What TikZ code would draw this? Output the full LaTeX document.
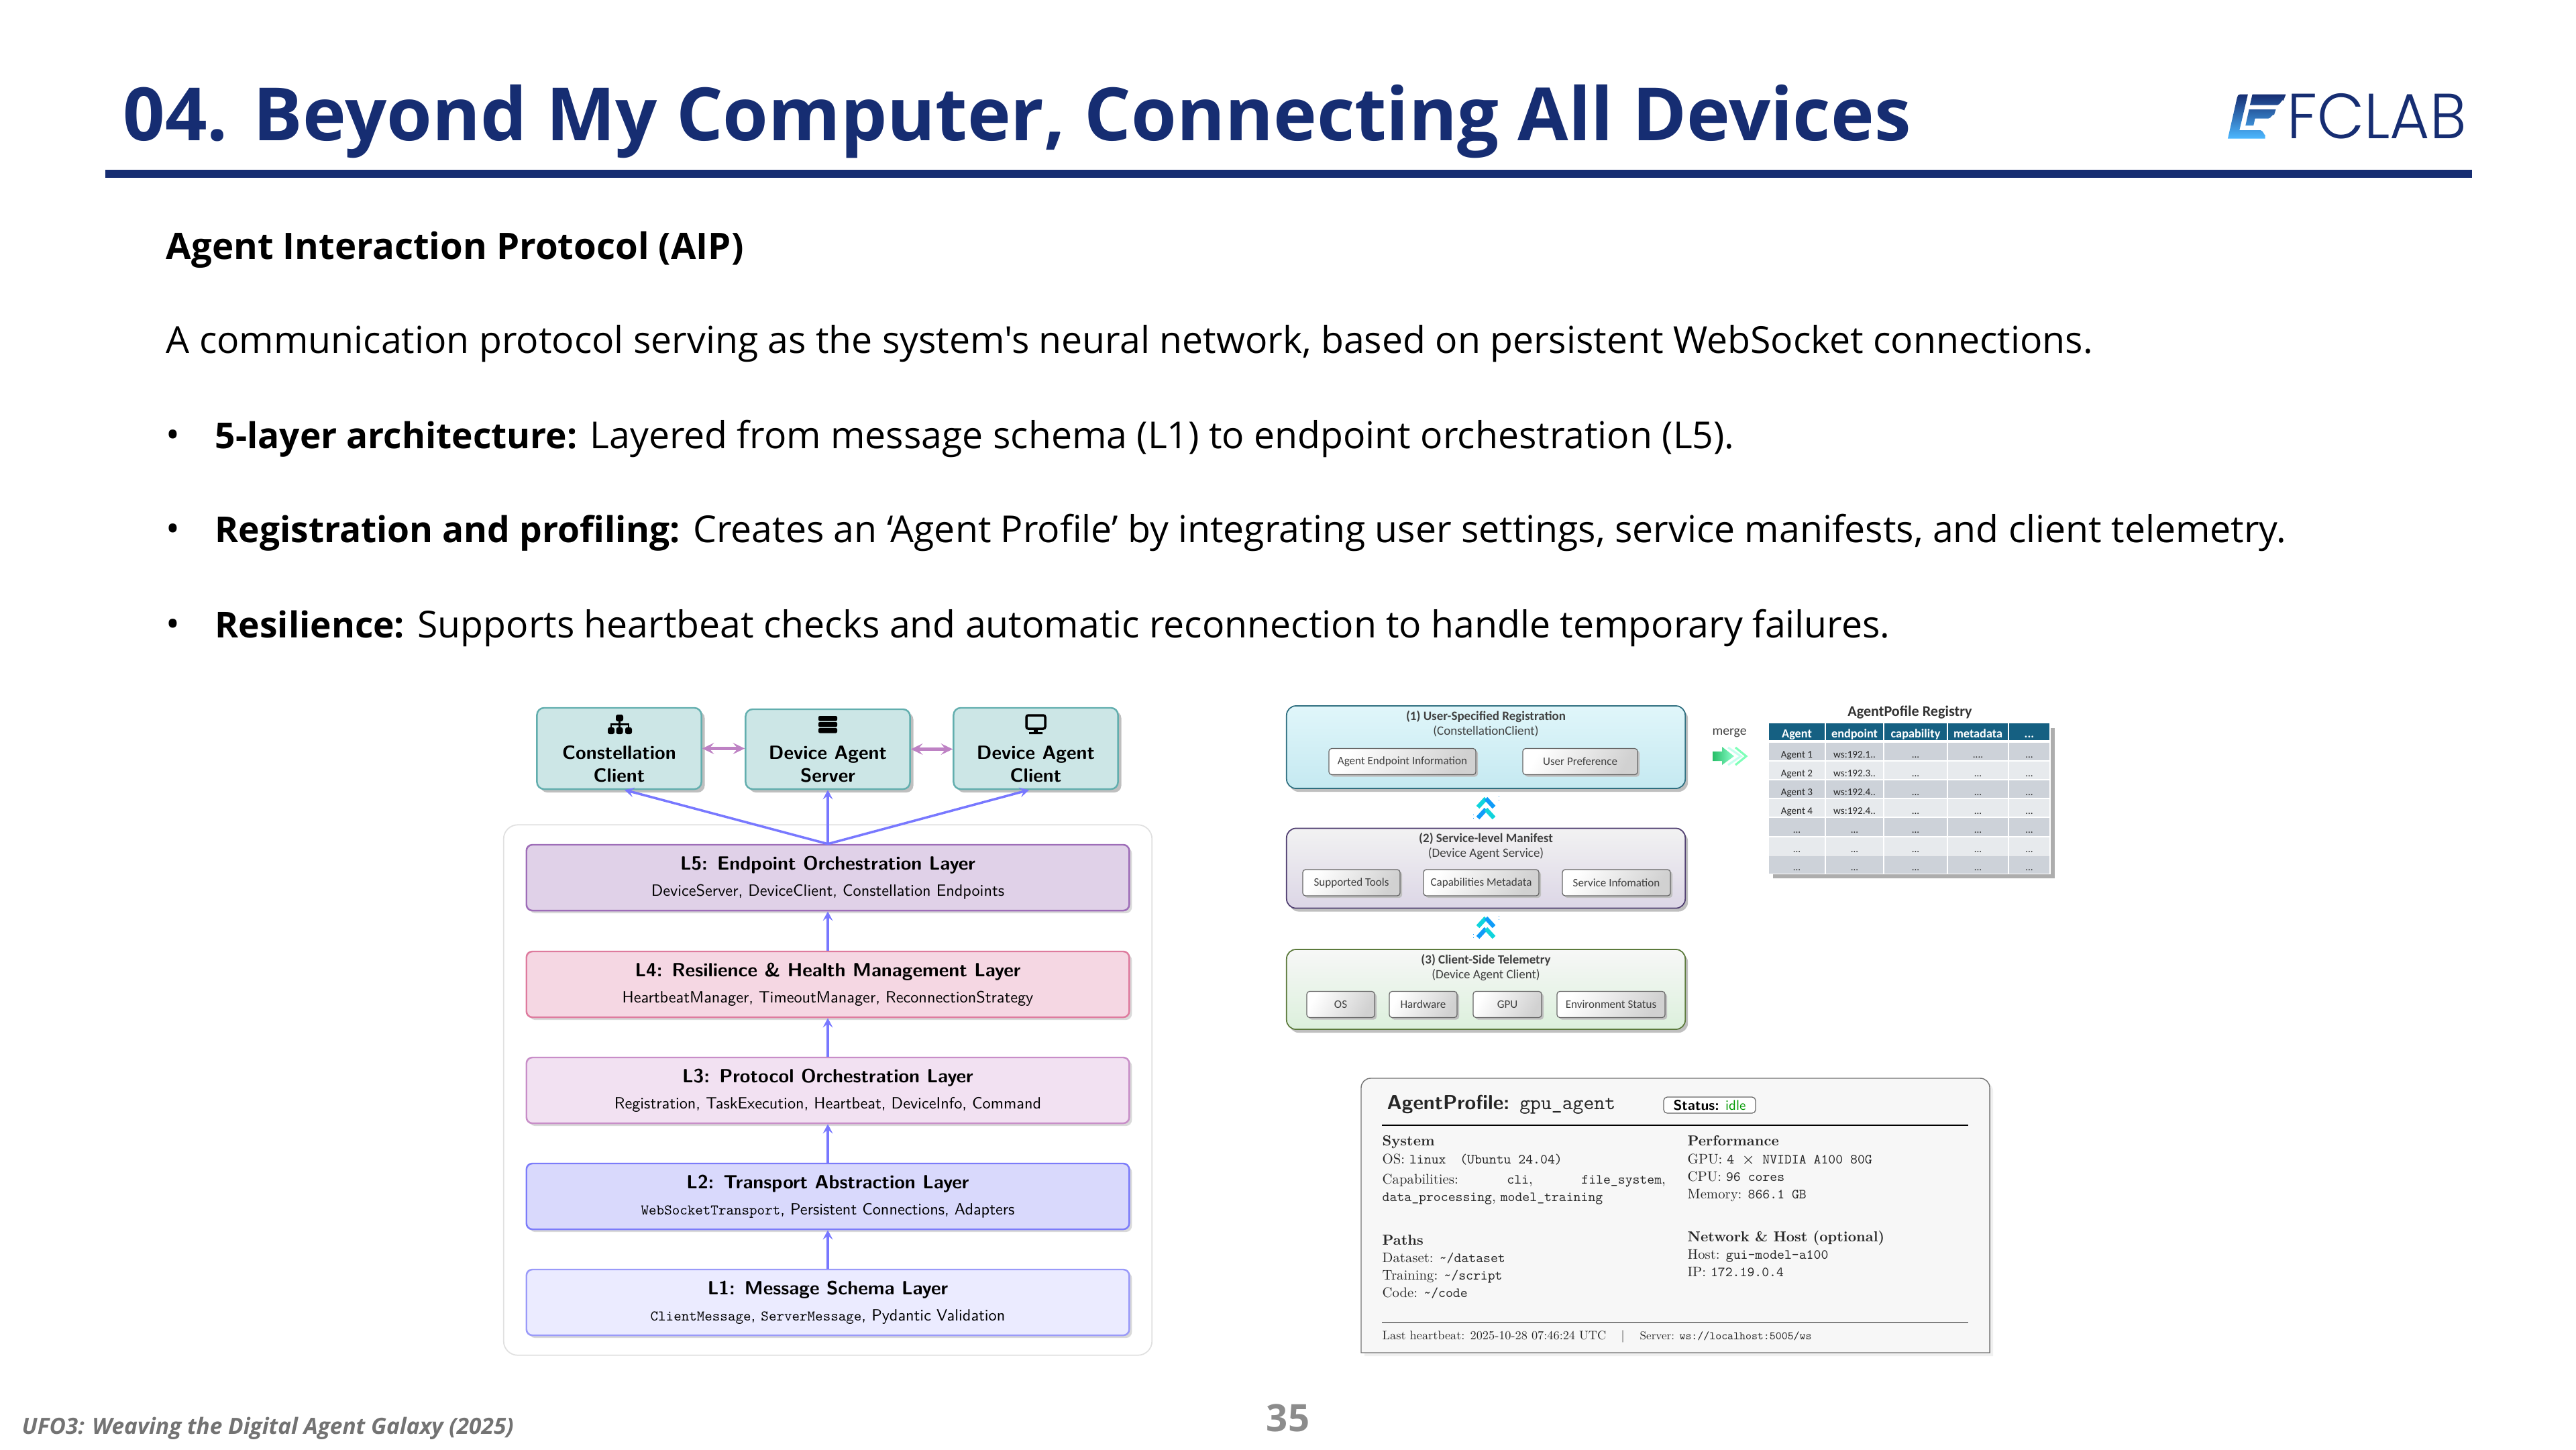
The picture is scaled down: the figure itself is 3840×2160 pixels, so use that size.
\documentclass[tikz,border=0pt]{standalone}
\usepackage{fontspec}
\usepackage{xcolor}
\usepackage{tikz}
\usetikzlibrary{arrows.meta,positioning,calc,shadows}
\newfontfamily\bodyfont{Open Sans}
\newfontfamily\cardfont{Carlito}
\newfontfamily\logofont{Poppins Light}
\newfontfamily\panelrm[Extension=.otf,UprightFont=lmroman10-regular,BoldFont=lmroman10-bold]{lmroman10-regular}
\newfontfamily\paneltt[Extension=.otf,UprightFont=lmmono10-regular,BoldFont=lmmono10-regular]{lmmono10-regular}
\newfontfamily\panelsf[Extension=.otf,UprightFont=lmsans10-regular,BoldFont=lmsans10-bold]{lmsans10-regular}
\definecolor{navy}{HTML}{162D72}
\definecolor{agentfill}{HTML}{CCE6E6}
\definecolor{agentline}{HTML}{62AEAE}
\definecolor{linkpurple}{HTML}{BE82C4}
\definecolor{linkblue}{HTML}{7878FF}
\definecolor{lfivefill}{HTML}{E0D1E8}
\definecolor{lfiveline}{HTML}{9E6DB8}
\definecolor{lfourfill}{HTML}{F5D7E3}
\definecolor{lfourline}{HTML}{DE7B9E}
\definecolor{lthreefill}{HTML}{F2E1F2}
\definecolor{lthreeline}{HTML}{C88EC8}
\definecolor{ltwofill}{HTML}{D9D9FC}
\definecolor{ltwoline}{HTML}{7C7CFA}
\definecolor{lonefill}{HTML}{EBEBFF}
\definecolor{loneline}{HTML}{9A9AF9}
\definecolor{headblue}{HTML}{156082}
\definecolor{rowdark}{HTML}{CDD2D9}
\definecolor{rowlight}{HTML}{E7EAED}
\definecolor{chevcyan}{HTML}{10D4DC}
\definecolor{chevblue}{HTML}{109CF8}
\definecolor{regtop}{HTML}{E0F6FA}
\definecolor{regbot}{HTML}{C5E9F1}
\definecolor{regline}{HTML}{2F6F80}
\definecolor{mantop}{HTML}{F2F2F2}
\definecolor{manbot}{HTML}{DCD6E6}
\definecolor{manline}{HTML}{4F3E70}
\definecolor{teltop}{HTML}{F7F7F7}
\definecolor{telbot}{HTML}{DCF0DC}
\definecolor{telline}{HTML}{5C7A3C}
\newcommand{\ltitle}[1]{{\fontsize{8.1}{9}\selectfont\bfseries #1}}
\newcommand{\lead}[1]{{\fontsize{15.15}{19}\selectfont\bfseries #1}}
\newcommand{\tdots}{...}
\newcommand{\mono}[1]{{\paneltt #1}}
\newcommand{\lmono}[1]{{\fontsize{6.25}{8}\selectfont\paneltt #1}}

\begin{document}
\begin{tikzpicture}[
  x=.01cm, y=-.01cm,
  slidetitle/.style={anchor=west, inner sep=0, text=navy, font=\bodyfont\bfseries\fontsize{31.15}{36}\selectfont},
  bodyline/.style={anchor=west, inner sep=0, font=\bodyfont\fontsize{15.74}{19}\selectfont},
  agent/.style={draw=agentline, line width=.7pt, fill=agentfill, rounded corners=3pt, minimum width=2.45cm,
    drop shadow={shadow xshift=.05cm, shadow yshift=-.05cm, fill=black!25, opacity=1}},
  agentlabel/.style={inner sep=0, align=center, font=\panelsf\bfseries\fontsize{8.1}{9.7}\selectfont},
  layer/.style={draw, line width=.7pt, rounded corners=2.5pt, minimum width=8.98cm, minimum height=.98cm,
    align=center, inner sep=0, font=\panelsf\fontsize{6.9}{8}\selectfont,
    drop shadow={shadow xshift=.04cm, shadow yshift=-.04cm, fill=black!15, opacity=1}},
  up/.style={-{Stealth[length=4pt, width=4.2pt, inset=1.6pt]}, linkblue, line width=1pt},
  link/.style={{Stealth[length=5pt, width=4.8pt, inset=2pt]}-{Stealth[length=5pt, width=4.8pt, inset=2pt]}, linkpurple, line width=1.3pt},
  card/.style={draw, line width=.5pt, rounded corners=4pt, minimum width=5.94cm,
    drop shadow={shadow xshift=.04cm, shadow yshift=-.05cm, fill=black!25, opacity=1}},
  cardtitle/.style={inner sep=0, align=center, text=black!75, font=\cardfont\fontsize{5.4}{6.2}\selectfont},
  field/.style={draw=black!60, line width=.35pt, rounded corners=1.2pt, left color=white, right color=black!18, shading angle=60, minimum height=.39cm,
    inner sep=0, text=black!75, font=\cardfont\fontsize{4.85}{6}\selectfont,
    drop shadow={shadow xshift=.03cm, shadow yshift=-.03cm, fill=black!25, opacity=1}},
  cell/.style={draw=white, line width=.4pt, inner sep=0, text height=1.5ex, text depth=.3ex, minimum height=.28cm, font=\cardfont\fontsize{4.3}{6}\selectfont, text=black!85},
  headcell/.style={cell, fill=headblue, minimum height=.25cm, text=white, font=\cardfont\bfseries\fontsize{5.2}{6}\selectfont},
  pline/.style={anchor=west, inner sep=0, text height=1.4ex, text depth=.3ex, font=\panelrm\fontsize{5.9}{7}\selectfont, text=black!85},
  phead/.style={pline, font=\panelrm\bfseries\fontsize{6.1}{7}\selectfont},
  pfoot/.style={pline, font=\panelrm\fontsize{5.2}{6}\selectfont},
]
\useasboundingbox (0,0) rectangle (3840,2160);
% slide header
\node[slidetitle] (title) at (183,181) {04. Beyond My Computer, Connecting All Devices};
\fill[navy] (157,253) rectangle (3685,265);
\begin{scope}[shift={(3280,100)}, x=.00333cm, y=-.00333cm]
  \shade[top color=navy, bottom color=cyan!60!blue!70!white] (178,122) -- (213,122) -- (175,283) -- (270,283) to[out=0,in=-90] (290,303) -- (290,320) -- (123,320) -- (165,135) to[out=80,in=180] cycle
    (233,122) -- (383,122) -- (372,150) to[out=110,in=0] (345,170) -- (222,170) -- cycle
    (218,190) -- (338,190) -- (330,215) to[out=110,in=0] (305,230) -- (245,230) -- (238,262) -- (202,262) -- cycle;
\end{scope}
\node[inner sep=0, text=navy, font=\logofont\fontsize{27}{30}\selectfont] (logo) at (3543,173) {\scalebox{.96}[1]{FCLAB}};
% text lines
\node[bodyline] (head) at (247,372) {{\fontsize{15.5}{19}\selectfont\bfseries Agent Interaction Protocol (AIP)}};
\node[bodyline] (intro) at (247,512) {A communication protocol serving as the system's neural network, based on persistent WebSocket connections.};
\node[bodyline] (b1) at (247,654) {•};
\node[bodyline] (t1) at (320,654) {\lead{5-layer architecture:} Layered from message schema (L1) to endpoint orchestration (L5).};
\node[bodyline] (b2) at (247,794) {•};
\node[bodyline] (t2) at (320,794) {\lead{Registration and profiling:} Creates an ‘Agent Profile’ by integrating user settings, service manifests, and client telemetry.};
\node[bodyline] (b3) at (247,936) {•};
\node[bodyline] (t3) at (320,936) {\lead{Resilience:} Supports heartbeat checks and automatic reconnection to handle temporary failures.};
% stack of layers
\node[draw=black!12, line width=.5pt, fill=white, rounded corners=6pt, minimum width=9.66cm, minimum height=7.9cm] (frame) at (1234,1624.5) {};
\node[agent, minimum height=1.21cm] (cc) at (923,1115.5) {};
\node[agent, minimum height=1.19cm] (ds) at (1234,1116.5) {};
\node[agent, minimum height=1.21cm] (dc) at (1544,1115.5) {};
\node[agentlabel] (cctext) at (923,1139) {Constellation\\Client};
\node[agentlabel] (dstext) at (1234,1139) {Device Agent\\Server};
\node[agentlabel] (dctext) at (1544,1139) {Device Agent\\Client};
% icons
\fill[rounded corners=.8pt] (918,1065) rectangle (929,1075) (906,1084) rectangle (916,1094) (918.5,1084) rectangle (928.5,1094) (932,1084) rectangle (942,1094);
\draw[line width=.6pt] (923.5,1075) -- (923.5,1084) (911,1084) -- (911,1079.5) -- (937,1079.5) -- (937,1084);
\foreach \sy in {1067,1076,1085}
  \fill[rounded corners=.6pt] (1220,\sy) rectangle (1248,\sy+7.5);
\draw[line width=1pt, rounded corners=.8pt] (1530,1066) rectangle (1558,1086);
\fill (1541,1086) rectangle (1547,1091) (1534,1091) rectangle (1554,1094);
\draw[link] (cc.east) -- (cc.east -| ds.west);
\draw[link] (ds.east) -- (ds.east -| dc.west);
% layers
\node[layer, draw=lfiveline, fill=lfivefill] (l5) at (1234,1308) {\ltitle{L5:\enspace Endpoint Orchestration Layer}\\[3pt]DeviceServer, DeviceClient, Constellation Endpoints};
\node[layer, draw=lfourline, fill=lfourfill] (l4) at (1234,1467) {\ltitle{L4:\enspace Resilience \& Health Management Layer}\\[3pt]HeartbeatManager, TimeoutManager, ReconnectionStrategy};
\node[layer, draw=lthreeline, fill=lthreefill] (l3) at (1234,1625) {\ltitle{L3:\enspace Protocol Orchestration Layer}\\[3pt]Registration, TaskExecution, Heartbeat, DeviceInfo, Command};
\node[layer, draw=ltwoline, fill=ltwofill] (l2) at (1234,1783) {\ltitle{L2:\enspace Transport Abstraction Layer}\\[3pt]\lmono{WebSocketTransport}, Persistent Connections, Adapters};
\node[layer, draw=loneline, fill=lonefill] (l1) at (1234,1941) {\ltitle{L1:\enspace Message Schema Layer}\\[3pt]\lmono{ClientMessage}, \lmono{ServerMessage}, Pydantic Validation};
\draw[up] (l1) -- (l2);
\draw[up] (l2) -- (l3);
\draw[up] (l3) -- (l4);
\draw[up] (l4) -- (l5);
\draw[up] (l5.north) -- ([xshift=.08cm]cc.south);
\draw[up] (l5.north) -- (ds.south);
\draw[up] (l5.north) -- ([xshift=-.1cm]dc.south);
% profile cards
\node[card, draw=regline, top color=regtop, bottom color=regbot, minimum height=1.23cm] (reg) at (2215,1113.5) {};
\node[card, draw=manline, top color=mantop, bottom color=manbot, minimum height=1.19cm] (man) at (2215,1294) {};
\node[card, draw=telline, top color=teltop, bottom color=telbot, minimum height=1.19cm] (tel) at (2215,1474.5) {};
\node[cardtitle] (regtext) at (2215,1079) {\textbf{(1) User-Specified Registration}\\(ConstellationClient)};
\node[cardtitle] (mantext) at (2215,1261) {\textbf{(2) Service-level Manifest}\\(Device Agent Service)};
\node[cardtitle] (teltext) at (2215,1442) {\textbf{(3) Client-Side Telemetry}\\(Device Agent Client)};
\node[field, minimum width=2.19cm] (f1) at (2090.5,1135) {Agent Endpoint Information};
\node[field, minimum width=1.71cm] (f2) at (2355.5,1135) {User Preference};
\node[field, minimum width=1.45cm] (f3) at (2014.5,1315.5) {Supported Tools};
\node[field, minimum width=1.72cm] (f4) at (2208,1315.5) {Capabilities Metadata};
\node[field, minimum width=1.61cm] (f5) at (2409.5,1315.5) {Service Infomation};
\node[field, minimum width=1.01cm] (f6) at (1998.5,1497) {OS};
\node[field, minimum width=1.01cm] (f7) at (2121.5,1497) {Hardware};
\node[field, minimum width=1.02cm] (f8) at (2247,1497) {GPU};
\node[field, minimum width=1.61cm] (f9) at (2401.5,1497) {Environment Status};
% chevrons between the cards
\foreach \cy in {1190,1368} {
  \draw[chevcyan, line width=1.8pt] (2203,\cy+13) -- (2215,\cy);
  \draw[chevblue, line width=1.8pt] (2215,\cy) -- (2227,\cy+13);
  \draw[chevblue, line width=1.8pt] (2203,\cy+29) -- (2215,\cy+16);
  \draw[chevcyan, line width=1.8pt] (2215,\cy+16) -- (2227,\cy+29);
  \draw[chevblue, line width=.3pt, densely dotted] (2234,\cy-3) -- (2234,\cy+5) (2196,\cy+24) -- (2196,\cy+32);
}
% merge
\node[inner sep=0, text=black!75, font=\cardfont\fontsize{5.6}{7}\selectfont] (merge) at (2578,1092) {merge};
\shade[left color=teal!60!green!85!white, right color=green!45!cyan!45!white] (2553,1120) -- (2567,1120) -- (2567,1113) -- (2585,1127) -- (2567,1140) -- (2567,1134) -- (2553,1134) -- cycle;
\draw[green!30!cyan!22!white, line width=.9pt] (2576,1114) -- (2595,1127) -- (2576,1140);
\draw[green!55!cyan!50!white, line width=.9pt] (2587,1114) -- (2603,1127) -- (2587,1140);
% registry table
\node[inner sep=0, text=black!80, font=\cardfont\bfseries\fontsize{6.3}{7}\selectfont] (regtitle) at (2847,1062) {AgentPofile Registry};
\node[fill=rowdark, inner sep=0, minimum width=4.2cm, minimum height=2.24cm, drop shadow={shadow xshift=.07cm, shadow yshift=-.07cm, fill=black!32, opacity=1}] (regbg) at (2846,1190) {};
\foreach \cn/\cx/\cw/\ch in {1/2678.5/.85cm/Agent,2/2764.5/.87cm/endpoint,3/2855.5/.95cm/capability,4/2948.5/.91cm/metadata,5/3025/.62cm/\tdots}
  \node[headcell, minimum width=\cw] (h\cn) at (\cx,1090.5) {\ch};
\foreach \rn/\ry/\rc/\na/\nb/\nd in {1/1120/rowdark/Agent 1/ws:192.1../\tdots.,2/1148/rowlight/Agent 2/ws:192.3../\tdots,3/1176/rowdark/Agent 3/ws:192.4../\tdots,4/1204/rowlight/Agent 4/ws:192.4../\tdots,5/1232.5/rowdark/\tdots/\tdots/\tdots,6/1261/rowlight/\tdots/\tdots/\tdots,7/1288.5/rowdark/\tdots/\tdots/\tdots} {
  \node[cell, fill=\rc, minimum width=.85cm] (r\rn c1) at (2678.5,\ry) {\na};
  \node[cell, fill=\rc, minimum width=.87cm] (r\rn c2) at (2764.5,\ry) {\nb};
  \node[cell, fill=\rc, minimum width=.95cm] (r\rn c3) at (2855.5,\ry) {\tdots};
  \node[cell, fill=\rc, minimum width=.91cm] (r\rn c4) at (2948.5,\ry) {\nd};
  \node[cell, fill=\rc, minimum width=.62cm] (r\rn c5) at (3025,\ry) {\tdots};
}
% agent profile panel
\draw[draw=black!55, line width=.4pt, fill=black!3, drop shadow={shadow xshift=.05cm, shadow yshift=-.05cm, fill=black!6, opacity=1}] (2029,2016) [rounded corners=4pt] -- (2029,1607) -- (2966,1607) [sharp corners] -- (2966,2016) -- cycle;
\node[anchor=west, inner sep=0, text=black!85, font=\panelsf\bfseries\fontsize{8.6}{10}\selectfont] (ptitle) at (2067,1646) {AgentProfile: \mono{gpu\_agent}};
\node[draw=black!60, line width=.35pt, fill=white, rounded corners=1.5pt, minimum width=1.37cm, minimum height=.24cm, inner sep=0, font=\panelsf\fontsize{6}{7}\selectfont] (status) at (2548.5,1647) {\textbf{Status:} \textcolor{green!60!black}{idle}};
\coordinate (rulea) at (2060,1677);
\coordinate (ruleb) at (2934,1677);
\draw[line width=.5pt] (rulea) -- (ruleb);
\node[phead] (sys) at (2060,1699) {System};
\node[pline] (os) at (2060,1726) {OS: \mono{linux}\quad\mono{(Ubuntu 24.04)}};
\node[pline] (cap) at (2060,1756) {\makebox[4.22cm][s]{Capabilities:\hfil\mono{cli},\hfil\mono{file\_system},}};
\node[pline] (capb) at (2060,1782) {\mono{data\_processing}, \mono{model\_training}};
\node[phead] (paths) at (2060,1847) {Paths};
\node[pline] (data) at (2060,1873) {Dataset: \mono{\textasciitilde/dataset}};
\node[pline] (train) at (2060,1899) {Training: \mono{\textasciitilde/script}};
\node[pline] (code) at (2060,1925) {Code: \mono{\textasciitilde/code}};
\node[phead] (perf) at (2515,1699) {Performance};
\node[pline] (gpu) at (2515,1726) {GPU: \mono{4 $\times$ NVIDIA A100 80G}};
\node[pline] (cpu) at (2515,1752) {CPU: \mono{96 cores}};
\node[pline] (mem) at (2515,1778) {Memory: \mono{866.1 GB}};
\node[phead] (net) at (2515,1842) {Network \& Host (optional)};
\node[pline] (host) at (2515,1868) {Host: \mono{gui-model-a100}};
\node[pline] (ip) at (2515,1894) {IP: \mono{172.19.0.4}};
\coordinate (rulec) at (2060,1971);
\coordinate (ruled) at (2934,1971);
\draw[black!50, line width=.5pt] (rulec) -- (ruled);
\node[pfoot] (beat) at (2060,1988) {Last heartbeat: 2025-10-28 07:46:24 UTC};
\node[pfoot] (bar) at (2416,1988) {|};
\node[pfoot, font=\panelrm\fontsize{4.85}{6}\selectfont] (serv) at (2444,1988) {Server: \mono{ws://localhost:5005/ws}};
% slide footer
\node[anchor=west, inner sep=0, text=black!55, font=\bodyfont\bfseries\itshape\fontsize{9.5}{11}\selectfont] (foot) at (32,2129) {UFO3: Weaving the Digital Agent Galaxy (2025)};
\node[inner sep=0, text=black!45, font=\bodyfont\bfseries\fontsize{16}{18}\selectfont] (page) at (1920,2113) {35};
\end{tikzpicture}
\end{document}
